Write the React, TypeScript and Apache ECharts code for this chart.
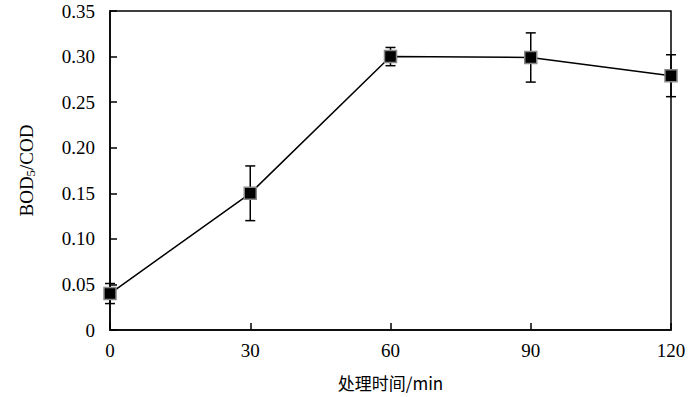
import React, { useEffect, useRef } from "react";
import * as echarts from "echarts";

const times = [0, 30, 60, 90, 120];
const ratio = [0.04, 0.15, 0.3, 0.299, 0.279];
const errors = [0.011, 0.03, 0.01, 0.027, 0.023];
const yTicks = [0, 0.05, 0.1, 0.15, 0.2, 0.25, 0.3, 0.35];
const xTicks = [0, 30, 60, 90, 120];

export default function App() {
  const ref = useRef<HTMLDivElement>(null);
  useEffect(() => {
    document.body.style.margin = "0";
    if (!ref.current) return;
    const chart = echarts.init(ref.current, undefined, { renderer: "svg" });
    const font = "Liberation Serif";
    const lineData = times.map((t, i) => [t, ratio[i]]);
    const errData = times.map((t, i) => [t, ratio[i] - errors[i], ratio[i] + errors[i]]);
    chart.setOption({
      animation: false,
      grid: {
        left: 110,
        right: 29,
        top: 11,
        bottom: 67,
        show: true,
        borderColor: "#000",
        borderWidth: 1.5,
      },
      xAxis: {
        type: "value",
        min: 0,
        max: 120,
        interval: 30,
        name: "处理时间/min",
        nameLocation: "middle",
        nameGap: 44,
        nameTextStyle: { fontFamily: "Noto Sans CJK SC", fontSize: 17, color: "#000" },
        axisLine: { show: true, lineStyle: { color: "#000", width: 1.5 } },
        axisTick: { show: true, inside: true, length: 7, lineStyle: { color: "#000", width: 1.5 } },
        axisLabel: {
          margin: 11,
          fontFamily: font,
          fontSize: 19,
          color: "#000",
          formatter: (v: number) => (xTicks.includes(v) ? String(v) : ""),
        },
        splitLine: { show: false },
      },
      yAxis: {
        type: "value",
        min: 0,
        max: 0.35,
        interval: 0.05,
        name: "{a|BOD}{s|5}{a|/COD}",
        nameLocation: "middle",
        nameGap: 73,
        nameRotate: 90,
        nameTextStyle: {
          rich: {
            a: { fontFamily: font, fontSize: 19, color: "#000" },
            s: { fontFamily: font, fontSize: 13, color: "#000", verticalAlign: "bottom", padding: [8, 0, 0, 0] },
          },
        },
        axisLine: { show: true, lineStyle: { color: "#000", width: 1.5 } },
        axisTick: { show: true, inside: true, length: 7, lineStyle: { color: "#000", width: 1.5 } },
        axisLabel: {
          margin: 15,
          fontFamily: font,
          fontSize: 19,
          color: "#000",
          formatter: (v: number) => {
            const t = yTicks.find((y) => Math.abs(y - v) < 1e-9);
            if (t === undefined) return "";
            return t === 0 ? "0" : t.toFixed(2);
          },
        },
        splitLine: { show: false },
      },
      series: [
        {
          type: "custom",
          z: 1,
          clip: false,
          data: errData,
          renderItem: (params: any, api: any) => {
            const x = api.value(0);
            const lo = api.coord([x, api.value(1)]);
            const hi = api.coord([x, api.value(2)]);
            const hw = 5;
            const style = { stroke: "#000", lineWidth: 1.5 };
            return {
              type: "group",
              children: [
                { type: "line", shape: { x1: lo[0], y1: lo[1], x2: hi[0], y2: hi[1] }, style },
                { type: "line", shape: { x1: lo[0] - hw, y1: lo[1], x2: lo[0] + hw, y2: lo[1] }, style },
                { type: "line", shape: { x1: hi[0] - hw, y1: hi[1], x2: hi[0] + hw, y2: hi[1] }, style },
              ],
            };
          },
        },
        {
          type: "line",
          z: 5,
          data: lineData,
          symbol: "rect",
          symbolSize: 12,
          lineStyle: { color: "#000", width: 1.5 },
          itemStyle: { color: "#000", borderColor: "#888", borderWidth: 1.5 },
        },
      ],
    });
    return () => chart.dispose();
  }, []);
  return <div ref={ref} style={{ width: 700, height: 397 }} />;
}
